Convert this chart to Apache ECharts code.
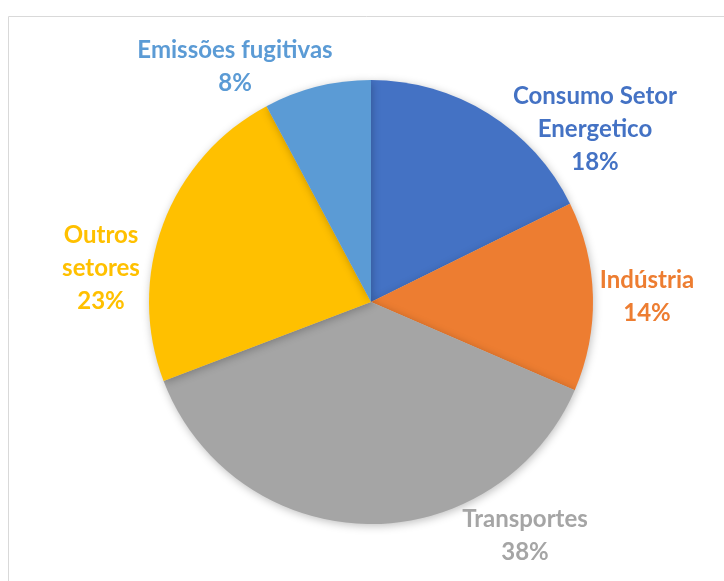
<!DOCTYPE html>
<html><head><meta charset="utf-8">
<script src="https://cdn.jsdelivr.net/npm/echarts@6/dist/echarts.min.js"></script>
<style>html,body{margin:0;padding:0;background:#fff}#c{width:724px;height:581px}</style>
</head><body><div id="c"></div>
<script>
const categories = ['Consumo Setor\nEnergetico', 'Indústria', 'Transportes', 'Outros\nsetores', 'Emissões fugitivas'];
const values = [17.7, 13.8, 37.7, 23.0, 7.8];
const colors = ['#4472C4', '#ED7D31', '#A5A5A5', '#FFC000', '#5B9BD5'];
// label block centre, relative to the pie centre (px)
const labelOffset = [[224, -173], [276, -5], [154, 234], [-270, -34], [-136, -235]];

const CX = 371, CY = 302, R = 222;
const chart = echarts.init(document.getElementById('c'));
chart.setOption({
  animation: false,
  graphic: [{type: 'rect', shape: {x: 8.5, y: 16.5, width: 800, height: 700}, style: {fill: 'none', stroke: '#d9d9d9', lineWidth: 1}, silent: true}],
  series: [{
    type: 'pie',
    center: [CX, CY],
    radius: R,
    startAngle: 90,
    clockwise: true,
    data: categories.map((n, i) => ({name: n, value: values[i], itemStyle: {color: colors[i]}, label: {color: colors[i]}})),
    itemStyle: {borderWidth: 0, shadowBlur: 8, shadowColor: 'rgba(0,0,0,0.25)', shadowOffsetX: 1, shadowOffsetY: 2},
    label: {
      position: 'outside',
      formatter: p => p.name + '\n' + Math.round(p.value) + '%',
      fontFamily: 'Lato',
      fontWeight: 'bold',
      fontSize: 24,
      lineHeight: 33,
      width: 300,
      overflow: 'none',
      align: 'center'
    },
    labelLine: {show: false},
    labelLayout: p => ({
      x: CX + labelOffset[p.dataIndex][0],
      y: CY + labelOffset[p.dataIndex][1],
      align: 'center',
      verticalAlign: 'middle'
    }),
    emphasis: {disabled: true}
  }]
});
</script></body></html>
